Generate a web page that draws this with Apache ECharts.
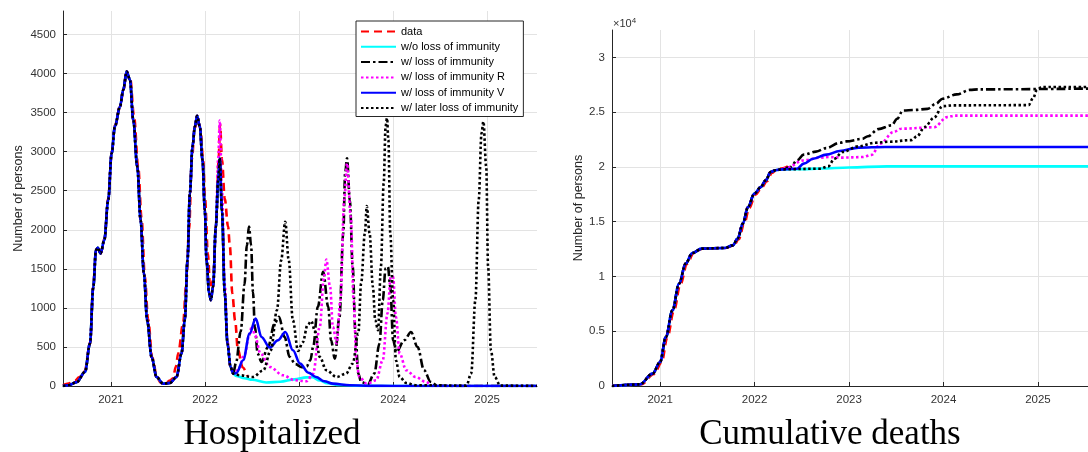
<!DOCTYPE html>
<html><head><meta charset="utf-8">
<script src="https://cdn.jsdelivr.net/npm/echarts@6/dist/echarts.min.js"></script>
<style>html,body{margin:0;padding:0;background:#fff}#c{width:1088px;height:452px}</style>
</head><body><div id="c"></div>
<script>
// ---------- tick labels ----------
const yearTicks = [2021, 2022, 2023, 2024, 2025];
const hospTicks = [0, 500, 1000, 1500, 2000, 2500, 3000, 3500, 4000, 4500];
const deathTicks = [0, 5000, 10000, 15000, 20000, 25000, 30000];
const seriesNames = ['data', 'w/o loss of immunity', 'w/ loss of immunity', 'w/ loss of immunity R', 'w/ loss of immunity V', 'w/ later loss of immunity'];

// ---------- Hospitalized [year, persons] ----------
const hospData = [[2020.49,10],[2020.55,30],[2020.62,70],[2020.66,110],[2020.72,190],[2020.78,560],[2020.81,1250],[2020.84,1730],[2020.86,1770],[2020.89,1700],[2020.93,1880],[2020.97,2400],[2021.01,3000],[2021.04,3330],[2021.1,3580],[2021.13,3790],[2021.167,4010],[2021.205,3930],[2021.245,3450],[2021.29,2800],[2021.325,2150],[2021.36,1400],[2021.395,850],[2021.44,360],[2021.49,110],[2021.53,40],[2021.58,40],[2021.63,70],[2021.66,100],[2021.69,250],[2021.715,420],[2021.767,800],[2021.8,1300],[2021.83,2000],[2021.86,2900],[2021.89,3300],[2021.92,3420],[2021.95,3300],[2021.98,2900],[2022.0,2400],[2022.03,1700],[2022.055,1250],[2022.085,1350],[2022.12,2100],[2022.145,2900],[2022.16,3350],[2022.18,2900],[2022.21,2400],[2022.245,2040],[2022.265,1780],[2022.29,1185],[2022.32,840],[2022.35,460],[2022.40,240],[2022.45,130]];
const hospFit = [[2020.49,0],[2020.55,10],[2020.636,50],[2020.724,180],[2020.777,543],[2020.812,1270],[2020.841,1740],[2020.859,1770],[2020.89,1697],[2020.929,1868],[2020.971,2381],[2021.007,2979],[2021.042,3321],[2021.096,3577],[2021.131,3791],[2021.167,4026],[2021.202,3919],[2021.237,3406],[2021.28,2808],[2021.315,2124],[2021.35,1441],[2021.385,842],[2021.432,372],[2021.485,115],[2021.555,30],[2021.626,38],[2021.697,115],[2021.75,415],[2021.785,842],[2021.814,1611],[2021.839,2467],[2021.867,3064],[2021.892,3321],[2021.916,3458],[2021.945,3321],[2021.973,2894],[2021.998,2253],[2022.016,1611],[2022.044,1185],[2022.062,1099],[2022.086,1270],[2022.115,2040]];
const hospFitWave = [[2022.14,2637],[2022.157,2915],[2022.18,2253],[2022.21,1185],[2022.239,544],[2022.271,244],[2022.3,159]];
const hospNoLoss = [[2022.33,130],[2022.42,100],[2022.5,80],[2022.65,45],[2022.8,55],[2022.95,85],[2023.08,110],[2023.14,112],[2023.22,70],[2023.3,35],[2023.4,15],[2023.6,3],[2023.8,0],[2025.53,0]];
const hospLoss = [[2022.33,300],[2022.38,700],[2022.42,1300],[2022.445,1800],[2022.468,2040],[2022.49,1800],[2022.51,1200],[2022.53,757],[2022.56,415],[2022.6,308],[2022.67,500],[2022.74,800],[2022.786,885],[2022.846,628],[2022.9,372],[2022.96,280],[2023.03,240],[2023.08,250],[2023.12,330],[2023.15,500],[2023.2,1013],[2023.256,1462],[2023.31,1013],[2023.34,586],[2023.38,351],[2023.43,885],[2023.47,1954],[2023.49,2723],[2023.51,2915],[2023.54,2381],[2023.57,1526],[2023.6,672],[2023.63,159],[2023.66,51],[2023.73,20],[2023.8,159],[2023.855,544],[2023.89,1099],[2023.92,1505],[2023.945,1526],[2023.97,1270],[2024.0,586],[2024.035,436],[2024.12,586],[2024.19,692],[2024.26,500],[2024.33,201],[2024.4,51],[2024.47,5],[2024.6,0],[2025.53,0]];
const hospLossRWave = [[2022.14,2900],[2022.157,3397],[2022.18,2500],[2022.21,1300],[2022.24,560],[2022.27,250],[2022.3,160]];
const hospLossR = [[2022.35,200],[2022.42,400],[2022.47,650],[2022.5,770],[2022.53,650],[2022.59,415],[2022.69,244],[2022.83,137],[2022.95,75],[2023.08,60],[2023.15,159],[2023.22,757],[2023.265,1397],[2023.29,1620],[2023.33,1270],[2023.36,757],[2023.4,544],[2023.44,1099],[2023.48,2381],[2023.51,2851],[2023.55,2167],[2023.58,1099],[2023.61,330],[2023.64,115],[2023.72,30],[2023.82,73],[2023.89,330],[2023.94,928],[2023.975,1397],[2024.0,1397],[2024.03,885],[2024.07,415],[2024.14,201],[2024.24,115],[2024.35,51],[2024.42,0],[2025.53,0]];
const hospLossV = [[2022.334,165],[2022.405,330],[2022.475,672],[2022.539,864],[2022.6,628],[2022.688,492],[2022.776,586],[2022.854,692],[2022.935,458],[2023.01,287],[2023.1,170],[2023.18,115],[2023.27,60],[2023.36,30],[2023.54,10],[2023.75,2],[2024.0,0],[2025.53,0]];
const hospLater = [[2022.37,137],[2022.51,115],[2022.62,201],[2022.7,458],[2022.765,970],[2022.81,1611],[2022.853,2103],[2022.89,1611],[2022.934,842],[2022.99,450],[2023.04,560],[2023.09,780],[2023.13,830],[2023.17,700],[2023.22,372],[2023.29,201],[2023.4,115],[2023.5,159],[2023.57,287],[2023.63,672],[2023.66,1313],[2023.7,1954],[2023.72,2304],[2023.75,1954],[2023.785,1270],[2023.81,842],[2023.84,714],[2023.87,1526],[2023.9,2595],[2023.92,3321],[2023.935,3428],[2023.95,3150],[2023.97,1954],[2024.0,1099],[2024.03,330],[2024.07,115],[2024.14,38],[2024.24,10],[2024.78,5],[2024.83,159],[2024.875,1099],[2024.91,2381],[2024.94,3236],[2024.96,3385],[2024.99,2808],[2025.01,1526],[2025.04,458],[2025.08,115],[2025.14,5],[2025.53,0]];

// ---------- Cumulative deaths [year, persons] ----------
const deathData = [[2020.49,0],[2020.8,150],[2020.935,1100],[2021.015,2150],[2021.075,4400],[2021.145,6850],[2021.215,9300],[2021.285,11150],[2021.355,12150],[2021.455,12550],[2021.695,12600],[2021.78,12840],[2021.832,13400],[2021.888,14750],[2021.943,16250],[2022.01,17500],[2022.078,18150],[2022.13,18700],[2022.183,19450],[2022.233,19750],[2022.3,19880],[2022.37,20150]];
const deathFit = [[2020.49,0],[2020.785,150],[2020.92,1130],[2021.0,2190],[2021.06,4470],[2021.13,6910],[2021.2,9340],[2021.27,11170],[2021.34,12140],[2021.44,12540],[2021.685,12600],[2021.77,12840],[2021.82,13450],[2021.875,14820],[2021.93,16340],[2021.997,17560],[2022.065,18160],[2022.117,18770],[2022.17,19530],[2022.22,19700],[2022.29,19780]];
const deathNoLoss = [[2022.5,19800],[2022.7,19850],[2023.0,19950],[2023.4,20050],[2025.53,20050]];
const deathLoss = [[2022.38,19990],[2022.45,20600],[2022.52,21120],[2022.65,21400],[2022.76,21720],[2022.9,22200],[2022.97,22330],[2023.14,22560],[2023.2,22800],[2023.31,23450],[2023.45,23790],[2023.51,24400],[2023.57,25150],[2023.69,25200],[2023.83,25300],[2023.92,25770],[2023.99,26230],[2024.14,26620],[2024.28,27030],[2024.37,27080],[2025.53,27150]];
const deathLossR = [[2022.34,19930],[2022.52,20600],[2022.69,20850],[2022.79,20900],[2022.93,20850],[2023.14,20900],[2023.24,21100],[2023.33,22120],[2023.47,23180],[2023.55,23490],[2023.9,23620],[2024.04,24550],[2024.12,24680],[2025.53,24680]];
const deathLossV = [[2022.45,19840],[2022.52,20300],[2022.62,20750],[2022.76,21120],[2022.9,21450],[2023.1,21760],[2023.38,21820],[2025.53,21820]];
const deathLater = [[2022.69,19840],[2022.78,20050],[2022.845,20750],[2022.93,21360],[2023.1,21880],[2023.28,22210],[2023.42,22300],[2023.66,22450],[2023.72,22800],[2023.8,23640],[2023.9,24500],[2023.99,25550],[2024.1,25620],[2024.9,25640],[2024.95,26300],[2024.99,27050],[2025.04,27290],[2025.53,27290]];

// ---------- styles ----------
const styles = [
  {color:'#ff0000', type:[8,5], width:2.6},
  {color:'#00ffff', type:'solid', width:2.6},
  {color:'#000000', type:[9,3,2.5,3], width:2.6},
  {color:'#ff00ff', type:[2.5,2.5], width:2.6},
  {color:'#0000ff', type:'solid', width:2.6},
  {color:'#000000', type:[2.5,2.5], width:2.6}
];
const hospSeriesData = [
  hospData,
  hospFit.concat(hospFitWave, hospNoLoss),
  hospFit.concat(hospFitWave, hospLoss),
  hospFit.concat(hospLossRWave, hospLossR),
  hospFit.concat(hospFitWave, hospLossV),
  hospFit.concat(hospFitWave, hospLater)
];
const deathSeriesData = [
  deathData,
  deathFit.concat(deathNoLoss),
  deathFit.concat(deathLoss),
  deathFit.concat(deathLossR),
  deathFit.concat(deathLossV),
  deathFit.concat(deathLater)
];

const axisTxt = {color:'#333', fontFamily:'Liberation Sans, Arial, sans-serif', fontSize:11.5};
function xAxisOf(idx){
  return {type:'value', gridIndex:idx, min:2020.49, max:2025.53,
    axisLine:{show:true, onZero:false, lineStyle:{color:'#262626', width:1}},
    axisTick:{show:true, inside:true, length:4, customValues:yearTicks, lineStyle:{color:'#262626'}},
    axisLabel:Object.assign({customValues:yearTicks, margin:8, formatter:v=>String(Math.round(v))}, axisTxt),
    splitLine:{show:true, lineStyle:{color:'#e3e3e3', width:1}}
  };
}
function yAxisOf(idx, max, ticks, fmt){
  return {type:'value', gridIndex:idx, min:0, max:max,
    name:'Number of persons', nameLocation:'middle', nameGap: idx===0?38:27,
    nameTextStyle:{color:'#262626', fontFamily:'Liberation Sans, Arial, sans-serif', fontSize:12.5},
    axisLine:{show:true, lineStyle:{color:'#262626', width:1}},
    axisTick:{show:true, inside:true, length:4, customValues:ticks, lineStyle:{color:'#262626'}},
    axisLabel:Object.assign({customValues:ticks, margin:7, formatter:fmt}, axisTxt),
    splitLine:{show:true, lineStyle:{color:'#e3e3e3', width:1}}
  };
}

const series = [];
seriesNames.forEach((n,i)=>{
  series.push({name:n, type:'line', xAxisIndex:0, yAxisIndex:0, data:hospSeriesData[i],
    showSymbol:false, symbol:'none', smooth:0.35, smoothMonotone:'x', lineStyle:styles[i], itemStyle:{color:styles[i].color}, clip:true});
});
seriesNames.forEach((n,i)=>{
  series.push({name:n, type:'line', xAxisIndex:1, yAxisIndex:1, data:deathSeriesData[i],
    showSymbol:false, symbol:'none', smooth:0.35, smoothMonotone:'x', lineStyle:styles[i], itemStyle:{color:styles[i].color}, clip:true});
});

const chart = echarts.init(document.getElementById('c'), null, {renderer:'canvas'});
chart.setOption({
  animation:false,
  backgroundColor:'#fff',
  grid:[
    {left:63, right:551, top:11, bottom:66},
    {left:612, right:-8, top:30, bottom:66}
  ],
  xAxis:[xAxisOf(0), xAxisOf(1)],
  yAxis:[
    yAxisOf(0, 4800, hospTicks, v=>String(v)),
    yAxisOf(1, 32500, deathTicks, v=>String(v/10000))
  ],
  legend:{
    data:seriesNames, orient:'vertical', left:356, top:21,
    itemWidth:35, itemHeight:11, itemGap:4.3,
    padding:[5,5,3,4],
    itemStyle:{opacity:0, borderWidth:0},
    backgroundColor:'#fff', borderColor:'#262626', borderWidth:1, borderRadius:0,
    textStyle:{color:'#000', fontFamily:'Liberation Sans, Arial, sans-serif', fontSize:11},
    selectedMode:false
  },
  graphic:[
    {type:'text', x:272, y:435, style:{text:'Hospitalized', font:'35px "Liberation Serif", "Times New Roman", serif', fill:'#000', textAlign:'center', textVerticalAlign:'middle'}},
    {type:'text', x:830, y:435, style:{text:'Cumulative deaths', font:'35px "Liberation Serif", "Times New Roman", serif', fill:'#000', textAlign:'center', textVerticalAlign:'middle'}},
    {type:'text', x:613, y:24, style:{text:'{a|×10}{b|4}', rich:{a:{fontSize:11, fontFamily:'Liberation Sans, Arial, sans-serif', fill:'#333'}, b:{fontSize:8, fontFamily:'Liberation Sans, Arial, sans-serif', fill:'#333', verticalAlign:'top', padding:[0,0,7,0]}}, textVerticalAlign:'middle'}}
  ],
  series:series
});
</script>
</body></html>
